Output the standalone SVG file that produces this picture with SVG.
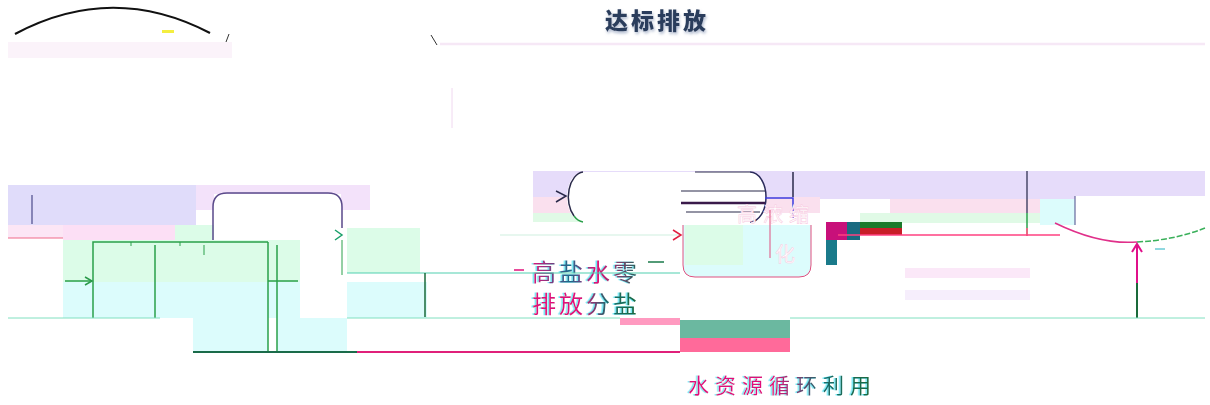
<svg xmlns="http://www.w3.org/2000/svg" width="1210" height="405" viewBox="0 0 1210 405">
<style>
.cjk{font-family:"Noto Sans CJK SC","Noto Sans",sans-serif}
.ln{fill:none;stroke-width:1.5}
</style>
<defs>
<filter id="sh" x="-10%" y="-20%" width="130%" height="150%"><feDropShadow dx="1" dy="2" stdDeviation="1.5" flood-color="#8a9ab8" flood-opacity="0.7"/></filter>
<filter id="ca" x="-5%" y="-10%" width="110%" height="130%"><feDropShadow dx="-1.5" dy="0" stdDeviation="0.6" flood-color="#40e0f0" flood-opacity="0.8"/></filter>
<linearGradient id="mt" x1="0" y1="0" x2="1" y2="0">
<stop offset="0" stop-color="#e0107a"/><stop offset="0.35" stop-color="#1a6a8a"/><stop offset="0.6" stop-color="#e0107a"/><stop offset="1" stop-color="#1a6a5a"/>
</linearGradient>
<linearGradient id="mt2" x1="0" y1="0" x2="1" y2="0">
<stop offset="0" stop-color="#e0107a"/><stop offset="0.45" stop-color="#e0107a"/><stop offset="0.7" stop-color="#1a6a6a"/><stop offset="1" stop-color="#1a6a3a"/>
</linearGradient>
<marker id="ag" markerWidth="10" markerHeight="10" refX="8" refY="5" orient="auto" markerUnits="userSpaceOnUse"><path d="M1,1 L8,5 L1,9" fill="none" stroke="#2a9a4a" stroke-width="1.5"/></marker>
<marker id="am" markerWidth="12" markerHeight="12" refX="6" refY="2" orient="0" markerUnits="userSpaceOnUse"><path d="M1,10 L6,2 L11,10" fill="none" stroke="#e0108a" stroke-width="2"/></marker>
</defs>

<g id="backgrounds">
<rect x="8" y="42" width="224" height="16" fill="#fbf3fa"/>
<rect x="8" y="185" width="188" height="40" fill="#e0dcfa"/>
<rect x="196" y="185" width="174" height="25" fill="#f3e2fa"/>
<rect x="8" y="225" width="55" height="13" fill="#fce6f5"/>
<rect x="63" y="225" width="112" height="15" fill="#fcdff5"/>
<rect x="175" y="225" width="125" height="15" fill="#dcfce8"/>
<rect x="63" y="240" width="237" height="42" fill="#dcfce8"/>
<rect x="63" y="282" width="237" height="36" fill="#dcfcfc"/>
<rect x="193" y="318" width="75" height="34" fill="#dcfcfc"/>
<rect x="277" y="318" width="70" height="34" fill="#dcfcfc"/>
<rect x="347" y="228" width="73" height="45" fill="#dcfce8"/>
<rect x="347" y="282" width="80" height="36" fill="#dcfcfc"/>
<rect x="214" y="194" width="127" height="46" fill="#ffffff"/>
<rect x="533" y="171" width="287" height="26" fill="#e6dcfa"/>
<rect x="533" y="197" width="287" height="16" fill="#fae0ee"/>
<rect x="533" y="213" width="140" height="9" fill="#e0fae6"/>
<rect x="820" y="171" width="385" height="28" fill="#e6dcfa"/>
<rect x="890" y="199" width="180" height="14" fill="#fae0ee"/>
<rect x="860" y="213" width="180" height="10" fill="#e0fae6"/>
<rect x="1040" y="199" width="35" height="26" fill="#dcfcfc"/>
<rect x="1075" y="196" width="130" height="29" fill="#ffffff"/>
<line x1="1075" y1="196" x2="1075" y2="225" stroke="#4a4a8a" stroke-width="1"/>
<rect x="905" y="268" width="125" height="10" fill="#fbe8f8"/>
<rect x="905" y="290" width="125" height="10" fill="#f6eefc"/>
<rect x="620" y="318" width="60" height="7" fill="#ff9ac0"/>
<rect x="680" y="320" width="110" height="18" fill="#6bb8a0"/>
<rect x="680" y="338" width="110" height="14" fill="#ff6a9a"/>
</g>

<g id="decor-top">
<path d="M15,34 Q112,-18 210,33" fill="none" stroke="#111" stroke-width="2.2"/>
<rect x="162" y="30" width="12" height="3" fill="#f4ee40"/>
<path d="M229,34 L226,42" stroke="#333" stroke-width="1"/>
<path d="M431,35 L437,45" stroke="#333" stroke-width="1"/>
<line x1="440" y1="44" x2="1205" y2="44" stroke="#f6e8f6" stroke-width="2.5"/>
<line x1="452" y1="88" x2="452" y2="128" stroke="#f0d8f0" stroke-width="1"/>
</g>

<g id="title">
<text x="657" y="29" class="cjk" font-size="23" font-weight="900" fill="#2a3d5c" text-anchor="middle" letter-spacing="3" filter="url(#sh)">达标排放</text>
</g>

<g id="node-left">
<line x1="32" y1="195" x2="32" y2="224" stroke="#4a4a8a" stroke-width="1.2"/>
<line x1="8" y1="238" x2="63" y2="238" stroke="#f06a8a" stroke-width="1.2"/>
<path d="M93,318 V242 H268" class="ln" stroke="#2aa04a"/>
<line x1="155" y1="245" x2="155" y2="318" stroke="#2aa04a" stroke-width="1.5"/>
<line x1="131" y1="242" x2="131" y2="246" stroke="#2aa04a" stroke-width="1"/>
<line x1="180" y1="242" x2="180" y2="246" stroke="#2aa04a" stroke-width="1"/>
<line x1="204" y1="245" x2="204" y2="255" stroke="#2aa04a" stroke-width="1"/>
<line x1="268" y1="242" x2="268" y2="352" stroke="#2aa04a" stroke-width="1.5"/>
<line x1="277" y1="245" x2="277" y2="352" stroke="#2aa04a" stroke-width="1.5"/>
<line x1="268" y1="281" x2="298" y2="281" stroke="#2aa04a" stroke-width="1.5"/>
<line x1="8" y1="318" x2="160" y2="318" stroke="#80e0c0" stroke-width="1"/>
</g>

<g id="node-box1">
<path d="M213,240 V207 Q213,193 227,193 H328 Q342,193 342,207 V228" class="ln" stroke="#5a4a8a"/>
<line x1="342" y1="240" x2="342" y2="275" stroke="#2aa04a" stroke-width="1"/>
</g>

<g id="node-ellipse">
<path d="M583,172 H750 A16,25 0 0 1 750,222 H583 A16,25 0 0 1 583,172 Z" fill="#ffffff"/>
<path d="M583,172 A16,25 0 0 0 574,216" class="ln" stroke="#2a2a4a"/>
<path d="M574,216 A16,25 0 0 0 583,222" class="ln" stroke="#2aa04a"/>
<path d="M750,172 A16,25 0 0 1 750,222" class="ln" stroke="#2a2a5a"/>
<line x1="695" y1="172" x2="750" y2="172" stroke="#2a2a4a" stroke-width="1.2"/>
<line x1="681" y1="191" x2="765" y2="191" stroke="#2a2a4a" stroke-width="1.2"/>
<line x1="681" y1="203" x2="765" y2="203" stroke="#3a1a4a" stroke-width="2.4"/>
<line x1="686" y1="212" x2="760" y2="212" stroke="#2a2a4a" stroke-width="1.2"/>
<line x1="793" y1="172" x2="793" y2="197" stroke="#2a2a4a" stroke-width="1.5"/>
<path d="M765,198 H793 V218" class="ln" stroke="#3a3ae0" stroke-width="1"/>
</g>

<g id="node-box2">
<path d="M683,225 V265 Q683,277 695,277 H799 Q811,277 811,265 V225" fill="#dcfcfc" stroke="#e05080" stroke-width="1"/>
<rect x="685" y="225" width="58" height="40" fill="#dcfce8"/>
<text x="737" y="222" class="cjk" font-size="20" fill="#ffffff" stroke="#f8c8e0" stroke-width="0.5" letter-spacing="6">高浓缩</text>
<text x="775" y="262" class="cjk" font-size="20" fill="#ffffff" stroke="#f8c8e0" stroke-width="0.5">化</text>
<line x1="770" y1="210" x2="770" y2="258" stroke="#e05080" stroke-width="1"/>
</g>

<g id="node-salt">
<text x="532" y="281" class="cjk" font-size="24" fill="url(#mt)" letter-spacing="3" filter="url(#ca)">高盐水零</text>
<text x="532" y="313" class="cjk" font-size="24" fill="url(#mt2)" letter-spacing="3" filter="url(#ca)">排放分盐</text>
<line x1="514" y1="270" x2="524" y2="270" stroke="#e0107a" stroke-width="1.5"/>
<line x1="648" y1="262" x2="664" y2="262" stroke="#1a7a4a" stroke-width="1.5"/>
</g>

<g id="node-right">
<rect x="826" y="222" width="21" height="18" fill="#c8107a"/>
<rect x="847" y="222" width="13" height="18" fill="#1a6a80"/>
<rect x="860" y="222" width="42" height="6" fill="#1a7a2a"/>
<rect x="860" y="228" width="42" height="7" fill="#c81e28"/>
<rect x="826" y="240" width="11" height="25" fill="#1a7a8a"/>
<line x1="1027" y1="171" x2="1027" y2="213" stroke="#4a4a6a" stroke-width="1.5"/>
<line x1="1027" y1="213" x2="1027" y2="228" stroke="#2aa04a" stroke-width="1.5"/>
<line x1="1027" y1="228" x2="1027" y2="236" stroke="#e03a5a" stroke-width="1.5"/>
<path d="M1055,223 Q1100,245 1137,242" class="ln" stroke="#e0308a"/>
<path d="M1137,242 Q1175,240 1205,228" class="ln" stroke="#3ab05a" stroke-dasharray="6,2"/>
<line x1="1155" y1="249" x2="1165" y2="249" stroke="#20b0c0" stroke-width="1"/>
</g>

<g id="connectors">
<line x1="65" y1="281" x2="92" y2="281" stroke="#2aa04a" stroke-width="1.5" marker-end="url(#ag)"/>
<path d="M335,230 L342,235 L335,240" fill="none" stroke="#1aa06a" stroke-width="1.5"/>
<line x1="347" y1="273" x2="680" y2="273" stroke="#50d0b0" stroke-width="1.2"/>
<line x1="425" y1="273" x2="425" y2="317" stroke="#1a6a3a" stroke-width="1.5"/>
<line x1="500" y1="235" x2="680" y2="235" stroke="#d0f0e0" stroke-width="1.2"/>
<path d="M673,230 L681,235 L673,240" fill="none" stroke="#e02040" stroke-width="1.5"/>
<path d="M556,191 L566,196 L556,202" fill="none" stroke="#2a2a4a" stroke-width="1.5"/>
<line x1="838" y1="235" x2="1060" y2="235" stroke="#ff4080" stroke-width="1.5"/>
<line x1="1137" y1="318" x2="1137" y2="283" stroke="#1a6a3a" stroke-width="2"/>
<line x1="1137" y1="283" x2="1137" y2="244" stroke="#e0108a" stroke-width="2" marker-end="url(#am)"/>
<line x1="193" y1="352" x2="357" y2="352" stroke="#1a6b4a" stroke-width="2"/>
<line x1="357" y1="352" x2="680" y2="352" stroke="#e0207a" stroke-width="2"/>
<line x1="347" y1="318" x2="620" y2="318" stroke="#80e0c0" stroke-width="1"/>
<line x1="790" y1="318" x2="1205" y2="318" stroke="#80e0c0" stroke-width="1"/>
</g>

<g id="bottom-label">
<text x="688" y="393" class="cjk" font-size="21" fill="url(#mt2)" letter-spacing="6" filter="url(#ca)">水资源循环利用</text>
</g>
</svg>
